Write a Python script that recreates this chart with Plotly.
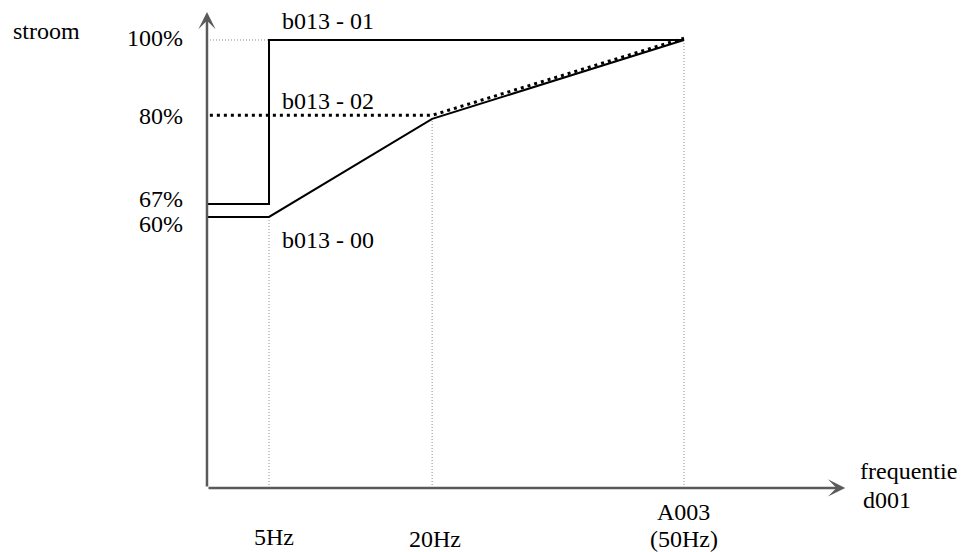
import plotly.graph_objects as go

# Schematic (not-to-scale) positions
# x positions of frequency marks (drawing units, 50Hz mark = 50)
FREQ_LABELS = ["5Hz", "20Hz", "A003", "(50Hz)"]
FREQ_POS = [6.5, 23.6, 50.0]
# y positions of current levels (drawing units, 100% mark = 100)
CURRENT_LABELS = ["100%", "80%", "67%", "60%"]
CURRENT_POS = [100.0, 83.0, 63.4, 60.5]

# curves: b013 - 00 (solid), b013 - 01 (solid), b013 - 02 (dotted)
B00_X = [0.0, 6.5, 23.6, 50.0]
B00_Y = [60.5, 60.5, 82.4, 100.0]
B01_X = [0.0, 6.5, 6.5, 50.0]
B01_Y = [63.4, 63.4, 100.0, 100.0]
B02_X = [0.3, 23.6, 50.0]
B02_Y = [83.2, 83.2, 100.4]

X_TIP = 66.9
Y_TIP = 106.25

FONT = "Liberation Serif, Times New Roman, serif"
FS = 24
AXIS_COLOR = "#5a5a5a"
GUIDE_COLOR = "#8a8a8a"

fig = go.Figure()

# guide lines (thin dotted)
guides = [
    ([0, B01_X[1]], [100.0, 100.0]),
    ([FREQ_POS[0], FREQ_POS[0]], [0, B00_Y[1]]),
    ([FREQ_POS[1], FREQ_POS[1]], [0, B00_Y[2]]),
    ([FREQ_POS[2], FREQ_POS[2]], [0, 100.0]),
]
for gx, gy in guides:
    fig.add_trace(go.Scatter(x=gx, y=gy, mode="lines",
                             line=dict(color=GUIDE_COLOR, width=1, dash="1px,2px"),
                             hoverinfo="skip", showlegend=False))

fig.add_trace(go.Scatter(x=B00_X, y=B00_Y, mode="lines",
                         line=dict(color="black", width=2), showlegend=False))
fig.add_trace(go.Scatter(x=B01_X, y=B01_Y, mode="lines",
                         line=dict(color="black", width=2), showlegend=False))
fig.add_trace(go.Scatter(x=B02_X, y=B02_Y, mode="lines",
                         line=dict(color="black", width=3, dash="3px,4px"),
                         showlegend=False))

ann = []
# axes with arrowheads
for (tx, ty) in [(0, Y_TIP), (X_TIP, 0)]:
    ann.append(dict(x=tx, y=ty, ax=0, ay=0, xref="x", yref="y", axref="x", ayref="y",
                    text="", showarrow=True, arrowhead=3, arrowsize=1.15,
                    arrowwidth=2.5, arrowcolor=AXIS_COLOR, standoff=0))

def txt(x, y, s, xanchor="center", yanchor="middle", align="center"):
    ann.append(dict(x=x, y=y, xref="x", yref="y", text=s, showarrow=False,
                    xanchor=xanchor, yanchor=yanchor, align=align,
                    font=dict(family=FONT, size=FS, color="black")))

txt(-20.5, 102.0, "stroom", xanchor="left")
label_y = [100.4, 83.0, 64.5, 59.0]
for lab, ly in zip(CURRENT_LABELS, label_y):
    txt(-2.3, ly, lab, xanchor="right")

txt(7.0, -11.0, FREQ_LABELS[0])
txt(23.9, -11.4, FREQ_LABELS[1])
txt(FREQ_POS[2], -5.3, FREQ_LABELS[2])
txt(FREQ_POS[2], -11.4, FREQ_LABELS[3])
txt(68.2, 3.8, "frequentie", xanchor="left")
txt(68.6, -2.7, "d001", xanchor="left")

txt(7.7, 104.2, "b013 - 01", xanchor="left")
txt(7.7, 86.4, "b013 - 02", xanchor="left")
txt(7.7, 55.4, "b013 - 00", xanchor="left")

# the page adds an 8px body margin, so the figure is 8px smaller and shifted
fig.update_layout(
    width=957, height=544,
    margin=dict(l=0, r=0, t=0, b=0),
    paper_bgcolor="white", plot_bgcolor="white",
    xaxis=dict(range=[-20.86, 79.46], visible=False, fixedrange=True),
    yaxis=dict(range=[-14.29, 107.14], visible=False, fixedrange=True),
    annotations=ann,
    showlegend=False,
)

fig.write_html("out.html")
